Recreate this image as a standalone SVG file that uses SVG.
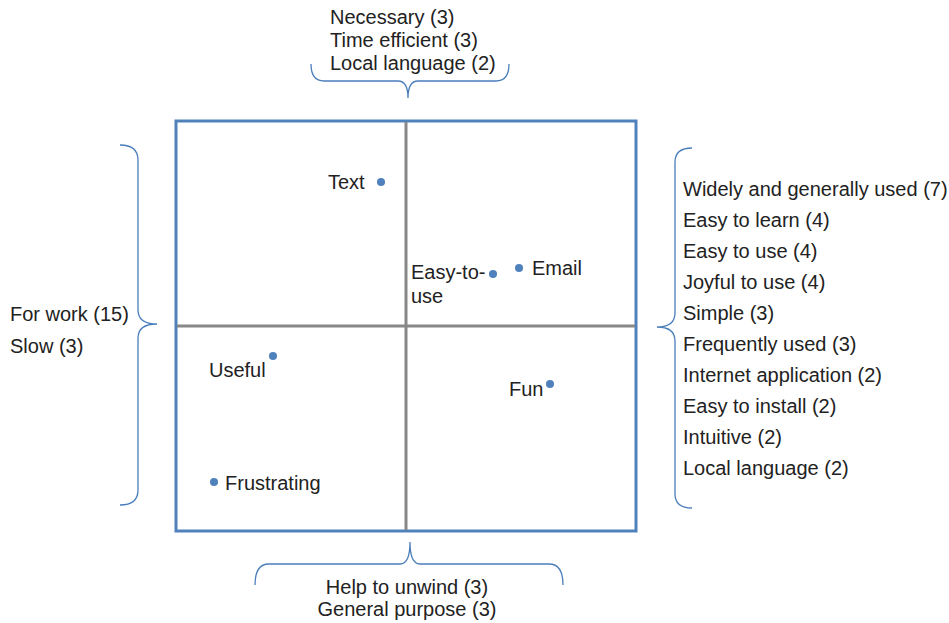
<svg xmlns="http://www.w3.org/2000/svg" width="949" height="623" viewBox="0 0 949 623">
<style>
text{font-family:"Liberation Sans",Arial,sans-serif;font-size:20px;fill:#222}
.brace{fill:none;stroke:#4a7ebb;stroke-width:1.3}
.dot{fill:#4f81bd}
.axis{stroke:#888;stroke-width:3}
</style>
<rect width="949" height="623" fill="#fff"/>
<g id="quadrant">
<rect x="176" y="121" width="460" height="410" fill="none" stroke="#4f81bd" stroke-width="3"/>
</g>
<g id="connectors">
<line class="axis" x1="406" y1="122" x2="406" y2="530"/>
<line class="axis" x1="177" y1="326" x2="635" y2="326"/>
<path class="brace" d="M311,64 Q311,81 324,81 L398,81 Q408,81 408,98 Q408,81 418,81 L496,81 Q509,81 509,64"/>
<path class="brace" d="M120,145 Q138,145 138,160 L138,310 Q138,324 157,324 Q138,324 138,338 L138,490 Q138,505 120,505"/>
<path class="brace" d="M692,148 Q675,148 675,162 L675,313 Q675,327 657,327 Q675,327 675,341 L675,494 Q675,508 692,508"/>
<path class="brace" d="M255,585 Q255,564 269,564 L400,564 Q410,564 410,542 Q410,564 420,564 L549,564 Q563,564 563,585"/>
</g>
<g id="top-labels">
<text x="330" y="24">Necessary (3)</text>
<text x="330" y="47">Time efficient (3)</text>
<text x="330" y="70">Local language (2)</text>
</g>
<g id="left-labels">
<text x="10" y="321">For work (15)</text>
<text x="10" y="353">Slow (3)</text>
</g>
<g id="right-labels">
<text x="683" y="196">Widely and generally used (7)</text>
<text x="683" y="227">Easy to learn (4)</text>
<text x="683" y="258">Easy to use (4)</text>
<text x="683" y="289">Joyful to use (4)</text>
<text x="683" y="320">Simple (3)</text>
<text x="683" y="351">Frequently used (3)</text>
<text x="683" y="382">Internet application (2)</text>
<text x="683" y="413">Easy to install (2)</text>
<text x="683" y="444">Intuitive (2)</text>
<text x="683" y="475">Local language (2)</text>
</g>
<g id="bottom-labels">
<text x="407" y="594" text-anchor="middle">Help to unwind (3)</text>
<text x="407" y="616" text-anchor="middle">General purpose (3)</text>
</g>
<g id="node-text"><circle class="dot" cx="381" cy="182" r="4"/><text x="328" y="189">Text</text></g>
<g id="node-easy"><circle class="dot" cx="493" cy="274" r="4"/><text x="411" y="279">Easy-to-</text><text x="411" y="303">use</text></g>
<g id="node-email"><circle class="dot" cx="519" cy="268" r="4"/><text x="532" y="275">Email</text></g>
<g id="node-useful"><circle class="dot" cx="273" cy="356" r="4"/><text x="209" y="377">Useful</text></g>
<g id="node-fun"><circle class="dot" cx="550" cy="384" r="4"/><text x="509" y="396">Fun</text></g>
<g id="node-frustrating"><circle class="dot" cx="214" cy="482" r="4"/><text x="225" y="490">Frustrating</text></g>
</svg>
